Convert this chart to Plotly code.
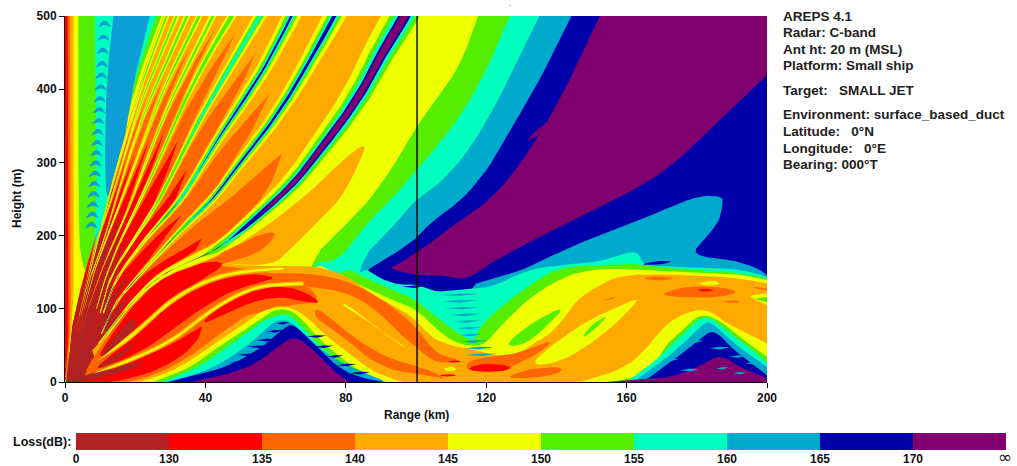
import numpy as np
import plotly.graph_objects as go

# ---------- palette / legend ----------
BROWN, RED, ORANGE, AMBER, YELLOW = "#B22222", "#FF0000", "#FF6600", "#FFAA00", "#EEFF00"
GREEN, CYAN, LBLUE, BLUE, PURPLE = "#55EE00", "#00FFBF", "#00AACC", "#0000AA", "#800070"
loss_colors = [BROWN, RED, ORANGE, AMBER, YELLOW, GREEN, CYAN, LBLUE, BLUE, PURPLE]
loss_labels = ["0", "130", "135", "140", "145", "150", "155", "160", "165", "170", ""]
x_ticks = [0, 40, 80, 120, 160, 200]
y_ticks = [0, 100, 200, 300, 400, 500]
info_lines = [("AREPS 4.1", 17), ("Radar: C-band", 32), ("Ant ht: 20 m (MSL)", 49), ("Platform: Small ship", 66),
              ("Target:   SMALL JET", 90), ("Environment: surface_based_duct", 114), ("Latitude:   0°N", 131),
              ("Longitude:   0°E", 148), ("Bearing: 000°T", 164)]
marker_range = 100.3

# ---------- contour regions, (range km, height m) ----------
iso_blue = [(152.4,500),(144.8,422),(137.2,353),(128.6,290),(121,248),(112.5,221),(104,189),(95.4,162),(92,155),(100,146),(107,146),(114.4,139),(121,162),(131.5,189),(142.9,217),(152,238),(161.9,262),(171.4,290),(180.9,331),(190.4,376),(200,419),(200,0),(0,0),(0,500)]
sliver = [(137.8,358),(136,340),(131.5,328),(133,338)]
iso_lblue = [(144.3,500),(137.2,431),(131.5,381),(126.3,340),(121,294),(113,248),(104.9,221),(100.1,196),(95.4,180),(89.3,162),(85,150),(83,0),(0,0),(0,500)]
blob_lblue = [(114,130),(122,141),(130.5,153),(138,171),(148.6,194),(161.9,217),(177,248.6),(182.8,255),(187,253),(187.5,248),(186.6,221),(182.8,198),(178,173),(190.4,166.6),(197.5,155),(200,146),(200,0),(114,0)]
lens_blue = [(163.5,160),(168,165),(173.5,166),(170,160)]
iso_cyan = [(135.1,500),(128.6,435),(122,372),(114.4,312),(106.8,271),(99.7,248.6),(92.6,207.6),(83,162),(80,0),(0,0),(0,500)]
iso_green = [(126.7,500),(121,435),(114.4,376),(106.8,326),(100.1,290),(95.4,262),(92.6,248),(86,217),(77.4,162),(69.8,166.6),(60,0),(0,0),(0,500)]
iso_yellow = [(117.7,500),(112.5,431),(104.9,381),(100.1,349),(95.4,308),(86.9,248.6),(78.4,207.6),(69.8,166.6),(60,0),(0,0),(0,500)]
env_cyan = [(83,162),(90.7,139),(96,132),(100,134),(106,122),(112.5,126.6),(121,128),(131.5,153),(141,160),(152.4,164),(161.9,180),(164,171),(164.7,160),(171.4,157.5),(190.4,155),(197,148.4),(200,143),(200,0),(60,0)]
env_green = [(77.4,162),(86.9,139),(94.5,124),(100,112),(106,88),(111.5,68),(116.3,55),(118,73),(122,94),(131.5,130),(141,157.5),(154.3,160),(162,162),(171.4,155),(190.4,150.7),(200,141.6),(200,0),(55,0)]
env_yellow = [(69.8,166.6),(77.4,148),(86,128),(94,110),(100,100),(105.8,72),(111.5,52),(119,48),(123,71),(131.5,112),(141,141.6),(148.6,153),(158,155),(171.4,150.7),(190.4,148.4),(200,139.3),(200,0),(50,0)]
lens_green = [(126.3,55),(133.4,82.4),(142.9,105),(137.2,75.6),(131.5,52.8),(126.7,48)]
env_amber = [(52.7,157.5),(69.8,159.8),(79.3,148),(86.9,122),(93.6,104),(100,86),(104,62),(109.6,50),(118,42),(124,35),(129.6,39),(133.4,52.8),(137.2,62),(142,84.7),(145.7,112),(151.4,130),(158,146),(171.4,147.5),(190.4,143),(200,134.7),(200,0),(8,0),(10,45),(20,110),(30,150),(42,165)]
lens_amber = [(86.4,330),(79,303),(73.6,276),(66,245),(58,215),(50,190),(44,172),(46,160),(59.4,160),(64,180),(71.7,217),(78.4,248.6),(83,290)]
lens_orange = [(60.3,205),(58.4,189.4),(54.6,175.7),(48.9,166.6),(44.2,159.8),(38.5,155),(37.5,162),(43.2,173.5),(50.8,191.7),(56.5,203)]
wedge_yellow = [(0,500),(28.5,500),(22.5,425),(17.5,345),(13.5,280),(10.5,225),(7.5,165),(5,115),(3,75),(1.5,40),(0,20)]
wedge_green = [(3.8,500),(27.5,500),(21.5,425),(17,350),(14,262),(11,205),(8,165),(6,150),(5,160),(3.8,200)]
wedge_cyan = [(8.5,500),(26,500),(20.5,425),(16.5,340),(13.6,253),(10.5,200),(8.5,172),(8,175),(8.5,200),(9,253),(9,300)]
wedge_lblue = [(13.8,500),(24.2,500),(19.5,411),(17.6,340),(12.8,253),(12,253),(11.5,270),(11.4,340),(12,420)]
strip_amber = [(0,500),(2.4,500),(2.4,200),(2.6,120),(1,30),(0,0)]
strip_orange = [(0,500),(1.4,500),(1.5,250),(1.8,120),(1,30),(0,0)]
strip_red = [(0,500),(0.8,500),(0.9,250),(1.2,120),(1,60),(0,0)]
orange_under = [(5,0),(7,28),(18,102),(27,144),(37,163),(46,158),(60,149),(70,130),(72.7,108),(64,106),(50,88),(40,78),(25,12),(14,0)]
red_L0 = [(10,42),(19,103),(27.5,143),(37,163),(47,165),(38,137),(30,112),(20,68),(10,31)]
red_arc_up = [(9,22),(19.5,60),(29,103),(37.5,128),(46,143),(54,148),(60.3,143),(56.5,137),(48,126),(38.5,100),(29,64),(19.5,36),(10,18)]
brown_L0 = [(10,38),(16,72),(20,92),(20,70),(12,36)]
brown_arc = [(9,20),(16,42),(22,62),(16,32),(10,18)]
orange_top = [(48.9,146),(60.3,149.3),(71.7,147.5),(81.2,137),(90.7,112),(97.4,87),(101,68.7),(105.8,38),(113.4,30),(105.8,25),(101,43.7),(97.4,57),(90.7,89),(86,107.4),(79.3,123.4),(72.7,128),(66,132.5),(60.3,135.7),(48.9,125)]
orange_hump = [(13.8,0),(24.2,11.8),(31.8,30),(37.5,52.8),(39.6,79),(47,96),(54.6,112),(62.2,116.5),(67.9,109.7),(72.7,107.4),(64,109.7),(56.5,103.8),(48.9,82.4),(43.2,62),(35.6,34.6),(27,11.8),(18.5,0)]
red_arc_low = [(39.4,84.7),(45,107.4),(51.8,123.4),(57.5,131),(65,129.3),(70.8,116.5),(72.7,107.4),(67.9,109.7),(62.2,116.5),(54.6,112),(47,96),(40.4,80)]
red_A = [(7.6,9.5),(19.5,29),(29,48),(36.6,68.7),(39.6,79),(37.5,52.8),(31.8,30),(24.2,11.8),(13.8,0),(0.5,0)]
brown_A = [(0.3,0),(7,12),(15,22),(24.2,30),(18.5,16.4),(11.9,7.3),(3.3,0)]
brown_base = [(0.3,0),(0.6,20),(1.5,45),(3,72),(6,60),(9,30),(7.6,11),(3.3,0)]
orange_low = [(71.7,103),(78.4,75.6),(86,48.2),(93.6,30),(101,21),(107.7,8),(108,4),(101,11.8),(94.5,14),(86.9,30),(79.3,62),(70.8,89)]
amber_core = [(72.7,120),(79.3,116),(86.9,92),(94.5,62),(101,40),(101,24),(94.5,32),(86,50),(78.4,78)]
yellow_core = [(79.3,109.7),(86.9,82.4),(94.5,52.8),(98.3,43.7),(90.7,66.5),(84,91.5),(79.3,102.9)]

hump_yellow = [(21.4,0),(31.8,16.4),(41.3,48),(49.9,75.6),(56.5,98.3),(62.2,105),(67.9,93.8),(74.5,62),(81.2,39),(86.9,16.4),(92.6,5),(96.4,0)]
hump_green = [(25.2,0),(35.6,18.7),(45,52.8),(52.7,75.6),(58.4,96),(62.2,100.6),(66,93.8),(72.7,57.3),(79.3,30),(86,9.5),(91.6,0)]
hump_cyan = [(28,0),(38.5,20.9),(48.9,57.3),(56.5,84.7),(62.2,93.8),(65,89),(71.7,52.8),(77.4,30),(85,9.5),(90.7,0)]
hump_lblue = [(29,0),(41.3,16.4),(51.8,48),(58.4,80),(63.2,87),(67.9,66.5),(76.5,30),(90.7,2.7),(90.7,0)]
hump_blue = [(29.5,0),(45,18.7),(51.8,34.6),(57.5,52.8),(62.2,73.3),(65,80),(69.8,57.3),(77.4,21),(83,7.3),(90.7,0)]
hump_purple = [(35.6,0),(45,9),(52.7,21),(57.5,36),(62.2,55),(66,62),(70.8,44),(75.5,20),(79.3,5),(81.2,0)]

rhump_yellow = [(146.7,0),(157.1,14),(163.8,34.6),(170.4,75.6),(176.1,93.8),(182.8,100.6),(188.5,80),(194.2,66.5),(200,52.8),(200,0)]
rhump_green = [(156.2,0),(166.6,11.8),(171.4,52.8),(176.1,71),(180.9,93.8),(186.6,84.7),(193.2,57.3),(200,34.6),(200,0)]
rhump_cyan = [(160,0),(168.5,30),(174.2,57.3),(179,80),(182.8,91.5),(188.5,71),(196,43.7),(200,25.5),(200,0)]
rhump_lblue = [(161.9,0),(169.5,25.5),(175.2,48),(180.9,75.6),(183.7,84.7),(190.4,52.8),(200,21),(200,0)]
rhump_blue = [(164.7,0),(169.5,16.4),(177,43.7),(180.9,57.3),(184.7,73),(190.4,43.7),(200,9.5),(200,0)]
rhump_purple = [(154.3,0),(170.4,5),(176.1,12),(181.8,24),(186.6,38),(192.3,20),(200,5),(200,0)]

lens_yellow_r = [(132.4,23),(138.1,48),(147.6,80),(154.3,96),(162.8,114),(163,109.7),(157.1,80),(148.6,48),(140,25.5)]
lens_green_r = [(147.6,64),(150.5,80),(154.8,91.5),(152.4,78),(148.1,61)]
spot_orange1 = [(163.8,141.6),(169,145),(174.2,141.6),(169,138)]
spot_orange2 = [(169,118.8),(175.2,129.3),(182.8,131),(190.4,126.6),(191.3,121),(185.6,115.6),(176.1,115.6)]
spot_red = [(179.4,125.6),(182.5,128),(185.6,125),(182.5,123)]
spot_yellow = [(180,135),(185,139),(187,134),(183,131)]
spot_orange3 = [(196,130),(200,128),(200,125),(196,128)]
spot_yellow2 = [(194.5,118),(200,121),(200,105),(197,112)]
spot_green2 = [(196.5,114),(200,116),(200,109),(198,111)]
spot_orange4 = [(153.3,112),(156.2,116),(157,115),(154,111)]
spot_orange5 = [(187,110),(190.5,112),(193,109),(189,108)]
orange_B = [(114.4,30),(126.7,37),(131.5,43.7),(137.2,55),(138.6,53.7),(134.3,37),(127.7,23.2),(125.8,14),(114.4,14)]
red_B = [(114.4,18.7),(119.1,25.5),(125.8,23.2),(127.2,18.7),(123.9,14),(117.2,14)]
orange_C = [(124.8,5),(132.4,18.7),(141.9,20.9),(141,11.8),(133.4,5)]
spot_yellow3 = [(107.5,17),(110,22),(112,17),(109.5,14)]
spot_red2 = [(108.5,28),(111,30),(113.5,28),(111,26)]
spot_red3 = [(106,9),(109.6,11),(112,9),(109,7)]

# trough striations: start range, end range, height
teeth_r0 = [92, 96, 106.8, 107.3, 108, 109.6, 110.6, 111.6, 112.5, 113, 114, 114]
teeth_r1 = [98, 103, 118, 117.7, 118.3, 118.6, 118.5, 118.6, 118.6, 120, 122, 123]
teeth_h = [139, 130, 119, 110, 100.6, 91.5, 82.4, 73.3, 64, 55, 46, 37]
# blue striations on the first hump
hteeth_r0 = [48.9, 51.8, 54.6, 57.5, 60.3, 70.8, 68.9, 74.5, 77.4, 81.2, 44, 47]
hteeth_r1 = [56.5, 58.4, 60.3, 62.2, 64, 76.5, 74.5, 79.3, 83, 86.9, 52, 54]
hteeth_h = [36.8, 48, 57, 69, 80, 48, 62, 34.6, 23, 12, 18, 27]
# paler striations on the second hump
rteeth_r0 = [175.2, 185.6, 190.4, 183.7, 189.4, 180, 194, 170, 177]
rteeth_r1 = [180.9, 189, 194.2, 189.4, 194.2, 183.2, 198.4, 175, 182]
rteeth_h = [16, 18.6, 11.8, 46, 34.6, 66.5, 25.5, 30, 55]
# arches along the left edge of the steep fan
arch_r = [13.6, 13.3, 13.1, 12.9, 12.7, 12.5, 12.3, 12.1, 11.9, 11.7, 11.5, 11.3, 11.1, 10.9, 10.7, 10.5, 10.3, 10.1, 9.9]
arch_h = [495, 476, 458, 440, 424, 408, 392, 377, 362, 347, 332, 318, 304, 290, 276, 262, 248, 234, 220]

# ---------- null rays, (range km, height m) ----------
N1 = [(1,12),(9.5,52),(18.5,107),(27,146),(36.6,167),(43.2,180),(52.7,217),(60.3,249),(67,281),(71.7,312),(76.5,340),(81.2,372),(86,408),(90.7,453),(96.9,500),(99,520)]
N2 = [(1,12),(10.4,66),(14.7,112),(24.2,162),(33.7,212),(42.3,250),(49,295),(57.5,345),(65,399),(71,450),(76.9,500),(79,520)]
N3 = [(1,12),(10.9,94),(14.7,144),(24.2,203),(33.2,248),(43.2,331),(55.6,417),(64.6,500),(66.5,520)]
N4 = [(1,12),(10,94),(12.8,144),(19.5,194),(27,248),(37.5,353),(47,431),(55.6,500),(58,520)]
N5 = [(1,12),(9,100),(10.9,135),(15.7,194),(21.4,248),(26,294),(32.8,372),(40.4,444),(47.5,500),(50,520)]
N6 = [(1,12),(6.5,100),(8,121),(11.9,171),(17.6,230),(20.4,267),(28,362),(34.7,431),(42.3,500),(44,520)]
N7 = [(1,12),(5.5,100),(6.6,121),(9,162),(13.8,221),(17.6,267),(24.2,353),(30,422),(38.5,500),(40,520)]
N8 = [(1,12),(4.5,90),(7.5,150),(10.9,189),(16.1,276),(21.4,353),(26,408),(35,500),(36.5,520)]
N9 = [(1,12),(4,90),(7,160),(11,220),(14.2,262),(18.5,335),(22.8,399),(32,500),(33.5,520)]
N10 = [(1,12),(3,70),(5,110),(8,165),(11,225),(14,280),(18,345),(23,425),(29,500),(30.5,520)]
EDGE = [(0.8,12),(1.8,70),(3,100),(4.8,140),(7,185),(10,230)]
Y2 = [(9,27.7),(19.5,64),(29,107.4),(37.5,132.5),(46,147.5),(54.6,153),(62.2,155)]
Y1 = [(7.6,11),(19.5,31),(30.9,57),(40.4,94),(48.9,119),(56.5,132.5),(67.9,134.7)]

ray_widths = [6.0, 3.0, 2.5, 1.7, 1.2, 0.85, 0.8, 0.75, 0.7, 0.7]
orange_tips = [312, 394, 449, 476, 481, 458, 420, 390, 370, 210]
red_tips = [196, 228, 290, 330, 340, 330, 310, 300, 280, 190]
brown_tips = [120, 150, 180, 200, 220, 240, 240, 230, 210, 150]

SX, SY = 3.51, 0.732  # screen px per km / per m

def chaikin(pts, closed=True, n=2):
    pts = [tuple(p) for p in pts]
    def sharp(p):
        return p[0] <= 0 or p[0] >= 200 or p[1] <= 0 or p[1] >= 500
    for it in range(n):
        src = []
        for p in pts:
            src.append(p)
            if it == 0 and closed and sharp(p):
                src.append(p)
        out = []
        m = len(src)
        for i in range(m if closed else m - 1):
            a, b = src[i], src[(i + 1) % m]
            out.append((.75*a[0]+.25*b[0], .75*a[1]+.25*b[1]))
            out.append((.25*a[0]+.75*b[0], .25*a[1]+.75*b[1]))
        if not closed:
            out = [src[0]] + out + [src[-1]]
        pts = out
    return pts

def ribbon(center, w):
    c = np.array(center, float)
    x, y = c[:, 0]*SX, c[:, 1]*SY
    tx, ty = np.gradient(x), np.gradient(y)
    n = np.hypot(tx, ty) + 1e-9
    nx, ny = -ty/n, tx/n
    px = np.asarray(w)*SX
    left = np.c_[(x+nx*px)/SX, (y+ny*px)/SY]
    right = np.c_[(x-nx*px)/SX, (y-ny*px)/SY]
    return np.r_[left, right[::-1]]

def sector(a, b, tip):
    a, b = np.array(a, float), np.array(b, float)
    h = np.linspace(12, tip, 60)
    ra = np.interp(h, a[:, 1], a[:, 0])
    rb = np.interp(h, b[:, 1], b[:, 0])
    c, half = (ra+rb)/2, (ra-rb)/2
    f = 1-(h/tip)**3
    return np.r_[np.c_[c-half*f, h], np.c_[c+half*f, h][::-1]]

fig = go.Figure()

def add(poly, color, smooth=True):
    pts = chaikin(poly) if smooth else poly
    arr = np.array(pts, float)
    fig.add_trace(go.Scatter(x=np.r_[arr[:, 0], arr[0, 0]], y=np.r_[arr[:, 1], arr[0, 1]], mode="lines",
                             fill="toself", fillcolor=color, line=dict(width=0, color=color),
                             hoverinfo="skip", showlegend=False))

def teeth(r0s, r1s, hs, color, up=2.0, down=1.6):
    for r0, r1, h in zip(r0s, r1s, hs):
        m = (r0+r1)/2
        add([(r0, h), (m, h+up), (r1, h+up*.8), (m, h-down)], color, False)

# background
add([(0,0),(200,0),(200,500),(0,500)], PURPLE, False)
for poly, col in [(iso_blue, BLUE), (sliver, PURPLE), (iso_lblue, LBLUE), (blob_lblue, LBLUE), (iso_cyan, CYAN),
                  (iso_green, GREEN), (iso_yellow, YELLOW), (env_cyan, CYAN), (env_green, GREEN),
                  (env_yellow, YELLOW), (lens_green, GREEN), (env_amber, AMBER), (lens_blue, BLUE)]:
    add(poly, col)
# fan amber, everything left of the first null
add([(p[0], p[1]) for p in N1[1:-1]] + [(96.9,500),(0,500),(0,0),(15,0)], AMBER)
add(lens_amber, AMBER)
FAN_BLUE = "#0E9ED6"
for poly, col in [(wedge_yellow, YELLOW), (wedge_green, GREEN), (wedge_cyan, CYAN), (wedge_lblue, FAN_BLUE)]:
    add(poly, col)
for r, h in zip(arch_r, arch_h):
    add([(r-4.6, h-12), (r-2.3, h+2), (r, h-12), (r-2.3, h-5.5)], FAN_BLUE)
for poly, col in [(strip_amber, AMBER), (strip_orange, ORANGE), (strip_red, RED)]:
    add(poly, col)

rays = [N1, N2, N3, N4, N5, N6, N7, N8, N9, N10, EDGE]
for tips, col in [(orange_tips, ORANGE), (red_tips, RED), (brown_tips, BROWN)]:
    for i, t in enumerate(tips):
        add(sector(rays[i], rays[i+1], t), col, False)
add(brown_base, BROWN)

for poly, col in [(orange_under, ORANGE), (lens_orange, ORANGE), (red_L0, RED), (orange_top, ORANGE), (red_arc_up, RED),
                  (brown_L0, BROWN), (brown_arc, BROWN), (orange_hump, ORANGE),
                  (red_arc_low, RED), (red_A, RED), (brown_A, BROWN), (orange_low, ORANGE), (amber_core, AMBER),
                  (yellow_core, YELLOW)]:
    add(poly, col)

# nested levels of each null: colour, width factor, first range
base = [(AMBER, 1.25, 0, 48), (YELLOW, 1.0, 0, 999)]
ray_levels = [
    base + [(GREEN, .62, 38, 999), (CYAN, .42, 43, 999), (BLUE, .26, 46, 999), (PURPLE, .17, 54, 999)],
    base + [(GREEN, .6, 28, 999), (CYAN, .36, 33, 999), (BLUE, .17, 38, 999)],
    base + [(GREEN, .6, 24, 999), (CYAN, .34, 28, 999), (BLUE, .13, 38, 999)],
    base + [(GREEN, .55, 22, 999), (CYAN, .25, 32, 999)],
    base + [(GREEN, .5, 20, 999)],
    base + [(GREEN, .35, 20, 999)],
    base + [(GREEN, .35, 20, 999)],
    base + [(GREEN, .35, 18, 999)],
    base + [(GREEN, .35, 18, 999)],
    base + [(GREEN, .35, 18, 999)],
]
for ray, wt, levels in zip(rays[:10], ray_widths, ray_levels):
    c = np.array(chaikin(ray[1:], closed=False, n=3))
    rtop = np.interp(500, np.array(ray)[:, 1], np.array(ray)[:, 0])
    for col, m, r0, r1 in levels:
        f = np.clip((c[:, 0]-r0)/5, 0, 1)*np.clip((r1-c[:, 0])/5, 0, 1)
        w = wt*(c[:, 0]/rtop)**1.6*m*f
        add(ribbon(c, w), col, False)

for ray, wa, wy in [(Y2, .7, .32), (Y1, .65, .28)]:
    c = np.array(chaikin(ray, closed=False, n=3))
    t = np.clip((c[:, 0]-c[0, 0])/8, 0, 1)
    add(ribbon(c, wa*t), AMBER, False)
    add(ribbon(c, wy*t), YELLOW, False)

for poly, col in [(hump_yellow, YELLOW), (hump_green, GREEN), (hump_cyan, CYAN), (hump_lblue, LBLUE), (hump_blue, BLUE),
                  (hump_purple, PURPLE)]:
    add(poly, col)
teeth(hteeth_r0, hteeth_r1, hteeth_h, BLUE)
for poly, col in [(lens_yellow_r, YELLOW), (lens_green_r, GREEN),
                  (spot_orange1, ORANGE), (spot_orange2, ORANGE), (spot_red, RED), (spot_yellow, YELLOW),
                  (spot_orange3, ORANGE), (spot_yellow2, YELLOW), (spot_green2, GREEN), (spot_orange4, ORANGE),
                  (spot_orange5, ORANGE), (orange_B, ORANGE), (red_B, RED), (orange_C, ORANGE),
                  (spot_yellow3, YELLOW), (spot_red2, RED), (spot_red3, RED),
                  (rhump_yellow, YELLOW), (rhump_green, GREEN), (rhump_cyan, CYAN), (rhump_lblue, LBLUE),
                  (rhump_blue, BLUE), (rhump_purple, PURPLE)]:
    add(poly, col)
teeth(rteeth_r0, rteeth_r1, rteeth_h, LBLUE)
teeth(teeth_r0[:2], teeth_r1[:2], teeth_h[:2], BLUE)
teeth(teeth_r0[2:], teeth_r1[2:], teeth_h[2:], LBLUE)

# marker line
fig.add_trace(go.Scatter(x=[marker_range, marker_range], y=[0, 500], mode="lines", line=dict(color="black", width=1.4),
                         hoverinfo="skip", showlegend=False))

# legend bar
fig.add_trace(go.Heatmap(z=[list(range(10))], x=[i+.5 for i in range(10)], y=[0], xaxis="x2", yaxis="y2",
                         zmin=0, zmax=9, showscale=False, hoverinfo="skip",
                         colorscale=[[i/9, c] for i, c in enumerate(loss_colors)]))

W, H = 1017, 466
FONT = "Liberation Sans"
tf = dict(family=FONT, size=12, color="#111111", weight="bold")
ax = dict(showgrid=False, zeroline=False, showline=True, linecolor="black", linewidth=1, ticks="outside",
          ticklen=5, tickcolor="black", tickfont=tf)
base_ann = dict(xref="paper", yref="paper", showarrow=False, yanchor="middle", xanchor="center")
ann = [dict(base_ann, text="Range (km)", x=416/W, y=1-415/H, font=tf),
       dict(base_ann, text="Height (m)", x=17/W, y=1-199/H, font=tf, textangle=-90),
       dict(base_ann, text="Loss(dB):", x=42/W, y=1-442/H, font=dict(tf, size=12.5)),
       dict(base_ann, text="∞", x=1005/W, y=1-457/H, font=dict(family="DejaVu Sans", size=17, color="#111111")),
       dict(base_ann, text=".", x=510/W, y=1-4/H, font=dict(family=FONT, size=8, color="#222"))]
for t, py in info_lines:
    ann.append(dict(base_ann, text=t, x=781/W, y=1-py/H, xanchor="left",
                    font=dict(family=FONT, size=13.5, color="#222222", weight="bold")))
fig.update_layout(
    width=W, height=H, margin=dict(l=0, r=0, t=0, b=0, autoexpand=False), paper_bgcolor="white", plot_bgcolor="white", showlegend=False,
    xaxis=dict(ax, domain=[65/W, 767/W], range=[0, 200], tickvals=x_ticks, anchor="y"),
    yaxis=dict(ax, domain=[1-382/H, 1-16/H], range=[0, 500], tickvals=y_ticks, anchor="x"),
    xaxis2=dict(domain=[76/W, 1006/W], range=[0, 10], tickvals=list(range(11)), ticktext=loss_labels, anchor="y2",
                showgrid=False, zeroline=False, showline=False, ticks="", tickfont=tf),
    yaxis2=dict(domain=[1-450/H, 1-433/H], range=[-.5, .5], visible=False, anchor="x2"),
    annotations=ann)
fig.write_html("out.html", config=dict(displayModeBar=False),
               post_script="document.body.style.margin='0';document.body.style.overflow='hidden';")
